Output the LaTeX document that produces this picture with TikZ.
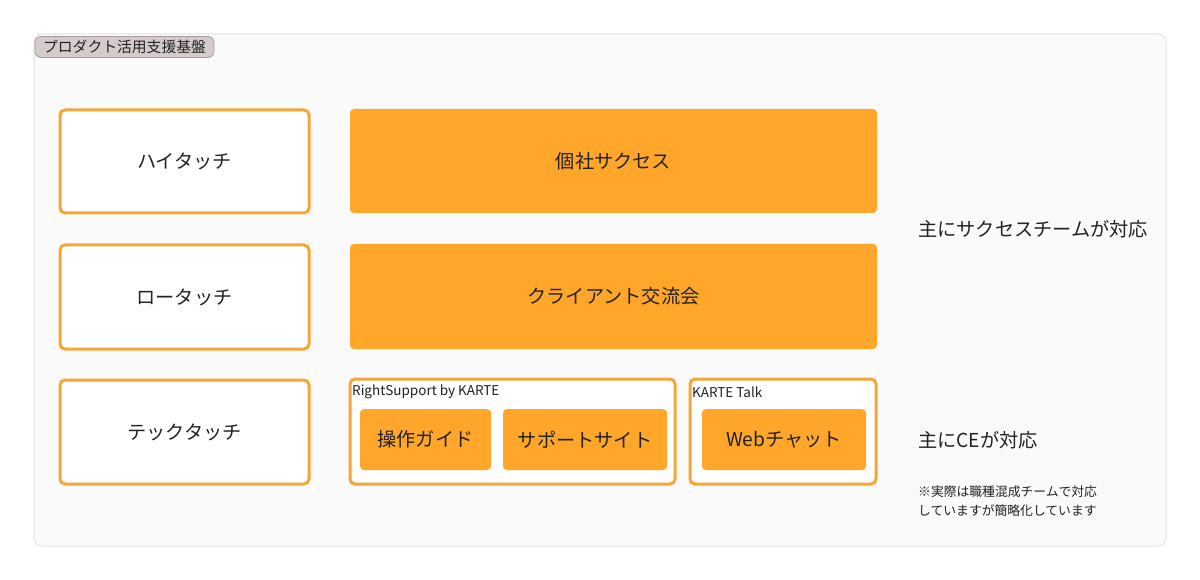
\documentclass[tikz,border=0pt]{standalone}
\usepackage{fontspec}
\setmainfont{Noto Sans CJK JP}
\definecolor{panelbg}{HTML}{FAFAFA}
\definecolor{panelline}{HTML}{E2E2E2}
\definecolor{orfill}{HTML}{FFA62B}
\definecolor{orline}{HTML}{F5A637}
\definecolor{tagfill}{HTML}{D6CBCB}
\definecolor{tagline}{HTML}{A89A9A}
\definecolor{txt}{HTML}{222222}
\begin{document}
\begin{tikzpicture}[x=1pt,y=-1pt,
  outlinebox/.style={draw=orline,line width=3pt,fill=white,rounded corners=5pt},
  fillbox/.style={fill=orfill,rounded corners=4pt},
  lbl/.style={text=txt,font=\fontsize{19.2}{22}\selectfont,inner sep=0pt},
  small/.style={text=txt,font=\fontsize{12.8}{19}\selectfont,inner sep=0pt,anchor=north west,align=left},
  grplbl/.style={text=txt,font=\fontsize{13.5}{15}\selectfont,inner sep=0pt,anchor=west}]
\useasboundingbox (0,0) rectangle (1200,580);
\fill[white] (0,0) rectangle (1200,580);
% panel
\draw[fill=panelbg,draw=panelline,line width=1pt,rounded corners=8pt] (34,34) rectangle (1166,546);
\node[draw=tagline,fill=tagfill,rounded corners=6pt,line width=0.8pt,minimum width=179pt,minimum height=21pt,inner sep=0pt,text=txt,font=\fontsize{14.8}{17}\selectfont] (tag) at (124.5,47) {プロダクト活用支援基盤};
% left column
\draw[outlinebox] (60,110) rectangle (309,213);
\node[lbl] (ht) at (184.5,161.5) {ハイタッチ};
\draw[outlinebox] (60,245) rectangle (309,349);
\node[lbl] (lt) at (184.5,297) {ロータッチ};
\draw[outlinebox] (60,380) rectangle (309,484);
\node[lbl] (tt) at (184.5,432) {テックタッチ};
% filled boxes
\fill[fillbox] (350,109) rectangle (877,213);
\node[lbl] (ks) at (613.5,161) {個社サクセス};
\fill[fillbox] (350,244) rectangle (877,349);
\node[lbl] (ck) at (613.5,296.5) {クライアント交流会};
% RightSupport group
\draw[outlinebox] (350,379) rectangle (675,484);
\node[grplbl] (rs) at (352,392) {RightSupport by KARTE};
\fill[fillbox] (360,409) rectangle (491,470);
\node[lbl] (sg) at (425.5,439.5) {操作ガイド};
\fill[fillbox] (503,409) rectangle (667,470);
\node[lbl] (ss) at (585,439.5) {サポートサイト};
% KARTE Talk group
\draw[outlinebox] (690,379) rectangle (876,484);
\node[grplbl] (kt) at (692,392) {KARTE Talk};
\fill[fillbox] (702,409) rectangle (866,470);
\node[lbl] (wc) at (784,439.5) {Webチャット};
% right notes
\node[lbl,anchor=west] (n1) at (918,229) {主にサクセスチームが対応};
\node[lbl,anchor=west] (n2) at (918,440) {主にCEが対応};
\node[small] (n3) at (918,486) {※実際は職種混成チームで対応\\していますが簡略化しています};
\end{tikzpicture}
\end{document}
